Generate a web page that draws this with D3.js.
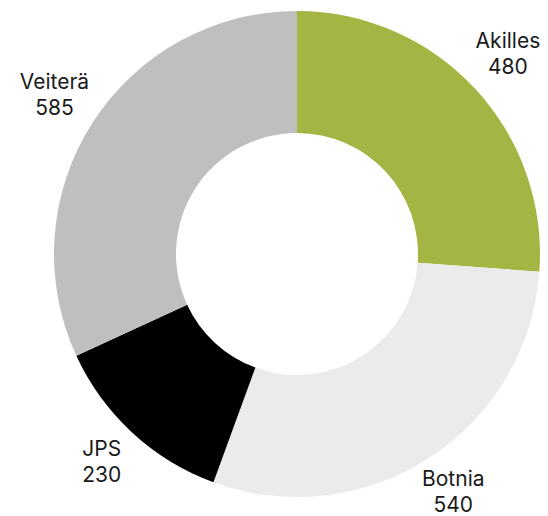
<!DOCTYPE html>
<html>
<head>
<meta charset="utf-8">
<script src="https://cdn.jsdelivr.net/npm/d3@7"></script>
<style>
  body { margin: 0; background: #fff; }
  text { font-family: "Inter", "Roboto", sans-serif; font-size: 21px; fill: #1a1a1a; }
</style>
</head>
<body>
<div id="chart"></div>
<script>
var categories = ["Akilles", "Botnia", "JPS", "Veiterä"];
var values = [480, 540, 230, 585];
var colors = ["#A4B543", "#EBEBEB", "#000000", "#BFBFBF"];

var width = 548, height = 516;
var cx = 297, cy = 254;
var outerR = 243, innerR = 121, labelR = 288;

var data = categories.map(function(c, i) {
  return { name: c, value: values[i], color: colors[i] };
});

var svg = d3.select("#chart").append("svg")
  .attr("width", width)
  .attr("height", height);

var g = svg.append("g").attr("transform", "translate(" + cx + "," + cy + ")");

var pie = d3.pie()
  .sort(null)
  .value(function(d) { return d.value; });

var arc = d3.arc()
  .innerRadius(innerR)
  .outerRadius(outerR);

var labelArc = d3.arc()
  .innerRadius(labelR)
  .outerRadius(labelR);

var arcs = pie(data);

g.selectAll("path")
  .data(arcs)
  .enter().append("path")
  .attr("d", arc)
  .attr("fill", function(d) { return d.data.color; });

var labels = g.selectAll("text.label")
  .data(arcs)
  .enter().append("text")
  .attr("class", "label")
  .attr("text-anchor", "middle")
  .attr("transform", function(d) {
    var p = labelArc.centroid(d);
    return "translate(" + p[0] + "," + p[1] + ")";
  });

// two lines: name, then value
labels.append("tspan")
  .attr("x", 0)
  .attr("y", -10)
  .text(function(d) { return d.data.name; });

labels.append("tspan")
  .attr("x", 0)
  .attr("y", 16)
  .text(function(d) { return d.data.value; });
</script>
</body>
</html>
